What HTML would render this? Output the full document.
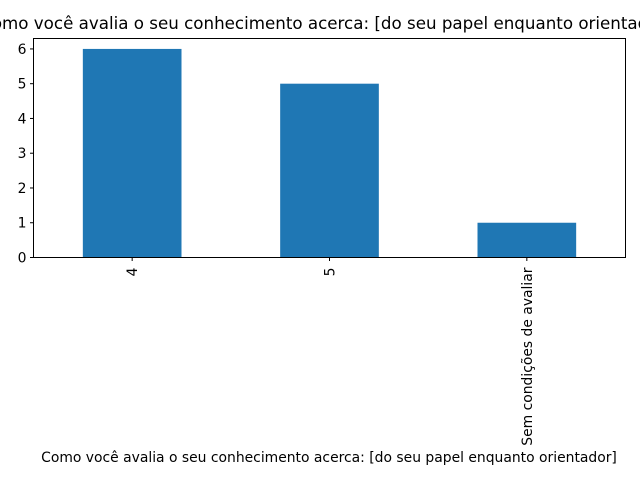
<!DOCTYPE html>
<html><head><meta charset="utf-8"><style>body{margin:0;background:#fff}svg{display:block}text{font-family:"DejaVu Sans","Liberation Sans",sans-serif;fill:#000}</style></head>
<body>
<svg id="chart" width="640" height="480">
<text x="326" y="29" text-anchor="middle" font-size="16.7">Como você avalia o seu conhecimento acerca: [do seu papel enquanto orientador]</text>
<g id="bars"></g>
<g id="yaxis"></g>
<g id="xaxis"></g>
<rect x="33.5" y="38.5" width="592" height="219" fill="none" stroke="#000" stroke-width="1"/>
<text x="329" y="462" text-anchor="middle" font-size="13.9">Como você avalia o seu conhecimento acerca: [do seu papel enquanto orientador]</text>
</svg>
<script>
const categories = ["4", "5", "Sem condições de avaliar"];
const values = [6, 5, 1];
const yTicks = [0, 1, 2, 3, 4, 5, 6];
const NS = "http://www.w3.org/2000/svg";
const x0 = 33.5, x1 = 625.5, yb = 257.5, yt = 38.5, yMax = 6.3;
function xs(i){ return x0 + (i + 0.5) * (x1 - x0) / categories.length; }
function ys(v){ return yb - v * (yb - yt) / yMax; }
function mk(tag, attrs, parent){ const e = document.createElementNS(NS, tag); for (const k in attrs) e.setAttribute(k, attrs[k]); parent.appendChild(e); return e; }
const bars = document.getElementById("bars"), ya = document.getElementById("yaxis"), xa = document.getElementById("xaxis");
const bw = (x1 - x0) / categories.length * 0.5;
values.forEach((v, i) => {
  const r = mk("rect", {x: xs(i) - bw / 2, y: ys(v), width: bw, height: yb - ys(v), fill: "#1f77b4"}, bars);
  
  
});
yTicks.forEach(t => {
  const y = ys(t);
  const l = mk("line", {x1: x0 - 3.5, x2: x0, y1: y, y2: y, stroke: "#000"}, ya);
  
  
  const tx = mk("text", {x: x0 - 7, y: y + 5, "text-anchor": "end", "font-size": "13.9"}, ya);
  tx.textContent = t;
  
  
});
categories.forEach((c, i) => {
  const x = xs(i);
  const l = mk("line", {x1: x, x2: x, y1: yb, y2: yb + 3.5, stroke: "#000"}, xa);
  
  
  const tx = mk("text", {x: 0, y: 0, "text-anchor": "end", "font-size": "13.9", transform: `translate(${x + 5},${yb + 10}) rotate(-90)`}, xa);
  tx.textContent = c;
  
  
});
</script>
</body></html>
